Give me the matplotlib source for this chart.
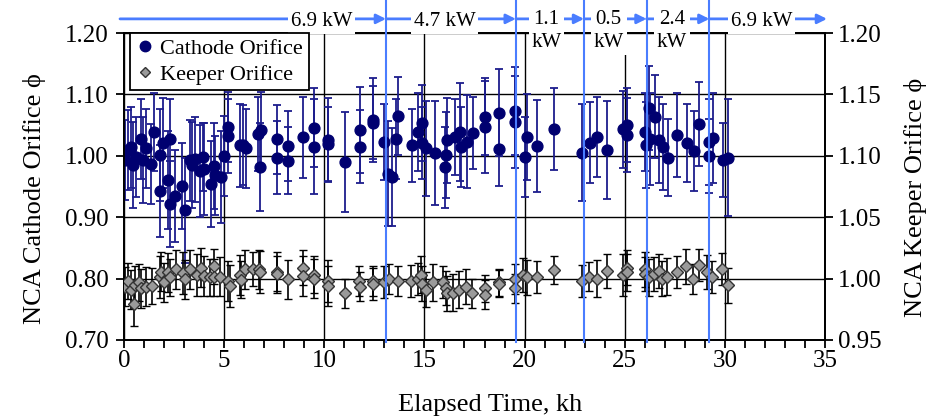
import numpy as np
import matplotlib
matplotlib.use('Agg')
import matplotlib.pyplot as plt
from matplotlib.lines import Line2D
import matplotlib.transforms as mtransforms

plt.rcParams['font.family'] = ['Liberation Serif', 'DejaVu Serif']

# Cathode orifice (left axis)
cath_x = [0.03, 0.2, 0.37, 0.45, 0.62, 0.87, 0.95, 1.12, 1.37, 1.5,
          1.78, 1.78, 1.94, 2.19, 2.28, 2.28, 2.56, 2.89, 3.06, 3.28,
          3.39, 3.52, 3.81, 3.94, 3.99, 4.36, 4.49, 4.52, 4.82, 4.99,
          5.18, 5.18, 5.77, 5.93, 6.1, 6.68, 6.85, 6.8, 7.63, 7.63,
          8.18, 8.18, 8.96, 9.51, 9.51, 10.2, 10.2, 11.05, 11.78, 11.78,
          12.45, 12.45, 13.0, 13.16, 13.36, 13.58, 13.69, 14.36, 14.66, 14.86,
          14.86, 15.1, 15.52, 16.02, 16.1, 16.15, 16.52, 16.78, 16.82, 17.12,
          17.45, 18.02, 18.02, 18.73, 18.73, 19.51, 19.51, 20.01, 20.14, 20.61,
          21.47, 22.88, 23.25, 23.63, 24.13, 24.93, 25.13, 25.13, 25.99, 26.04,
          26.21, 26.26, 26.49, 26.71, 26.92, 27.15, 27.59, 28.09, 28.45, 28.7,
          29.2, 29.2, 29.4, 29.9, 30.15]
cath_y = [0.993, 1.009, 1.014, 0.985, 0.998, 1.027, 0.993, 1.012, 0.987, 1.039,
          1.001, 0.943, 1.021, 0.960, 1.028, 0.921, 0.934, 0.951, 0.911, 0.993,
          0.985, 0.994, 0.975, 0.998, 0.979, 0.954, 0.984, 0.968, 0.966, 1.000,
          1.047, 1.032, 1.017, 1.017, 1.012, 1.035, 1.042, 0.982, 1.027, 0.997,
          1.016, 0.992, 1.030, 1.046, 1.015, 1.026, 1.019, 0.990, 1.042, 1.015,
          1.058, 1.054, 1.023, 0.971, 0.965, 1.027, 1.065, 1.017, 1.039, 1.053,
          1.021, 1.012, 1.005, 0.981, 1.001, 1.025, 1.031, 1.039, 1.014, 1.023,
          1.037, 1.064, 1.047, 1.070, 1.011, 1.073, 1.055, 0.998, 1.030, 1.016,
          1.044, 1.005, 1.021, 1.031, 1.009, 1.043, 1.050, 1.034, 1.039, 1.017,
          1.078, 1.028, 1.064, 1.026, 1.014, 0.997, 1.034, 1.021, 1.008, 1.052,
          1.023, 1.000, 1.029, 0.993, 0.997]
cath_err = [0.065, 0.065, 0.066, 0.070, 0.065, 0.065, 0.070, 0.065, 0.065, 0.063,
            0.075, 0.075, 0.073, 0.080, 0.065, 0.070, 0.075, 0.070, 0.085, 0.066,
            0.070, 0.070, 0.075, 0.055, 0.075, 0.070, 0.070, 0.065, 0.075, 0.065,
            0.057, 0.060, 0.068, 0.065, 0.065, 0.060, 0.062, 0.072, 0.056, 0.060,
            0.057, 0.055, 0.066, 0.064, 0.078, 0.068, 0.060, 0.082, 0.070, 0.060,
            0.068, 0.060, 0.062, 0.085, 0.080, 0.065, 0.064, 0.060, 0.064, 0.062,
            0.058, 0.078, 0.085, 0.066, 0.070, 0.069, 0.062, 0.080, 0.065, 0.076,
            0.059, 0.062, 0.075, 0.071, 0.060, 0.072, 0.075, 0.065, 0.070, 0.075,
            0.067, 0.079, 0.066, 0.065, 0.080, 0.063, 0.060, 0.060, 0.064, 0.070,
            0.068, 0.075, 0.068, 0.070, 0.070, 0.063, 0.069, 0.064, 0.065, 0.069,
            0.070, 0.060, 0.074, 0.060, 0.095]

# Keeper orifice (right axis)
keep_x = [0.03, 0.2, 0.33, 0.5, 0.57, 0.73, 0.83, 1.12, 1.4, 1.78,
          1.86, 1.99, 2.19, 2.28, 2.61, 2.94, 3.06, 3.32, 3.66, 3.82,
          3.99, 4.27, 4.49, 4.49, 4.77, 5.18, 5.27, 5.77, 5.85, 6.05,
          6.43, 6.73, 6.8, 7.63, 7.63, 8.18, 8.96, 8.96, 9.51, 9.51,
          10.2, 10.2, 11.05, 11.71, 11.78, 12.41, 12.45, 13.0, 13.25, 13.66,
          14.33, 14.66, 14.83, 14.86, 15.07, 15.45, 15.95, 16.07, 16.12, 16.45,
          16.73, 17.07, 17.4, 18.02, 18.02, 18.73, 18.73, 19.51, 19.51, 19.94,
          20.14, 20.61, 21.47, 22.88, 23.22, 23.63, 24.13, 24.93, 25.13, 25.13,
          25.99, 25.99, 26.21, 26.46, 26.71, 26.88, 27.13, 27.59, 28.04, 28.42,
          28.7, 29.12, 29.37, 29.87, 30.14]
keep_y = [0.9935, 0.998, 0.991, 0.979, 0.9945, 0.997, 0.992, 0.9935, 0.994, 1.001,
          1.0055, 0.997, 1.005, 1.001, 1.0075, 1.0045, 0.9995, 1.0075, 1.003, 1.009,
          1.002, 1.001, 1.010, 1.001, 1.0015, 0.998, 0.994, 1.003, 0.999, 1.0075,
          1.008, 1.0075, 1.0055, 1.0055, 1.0035, 0.9995, 1.009, 1.002, 1.003, 1.000,
          0.998, 0.994, 0.988, 0.998, 0.9935, 0.998, 0.9955, 0.997, 0.9995, 0.998,
          0.998, 0.9995, 1.003, 0.996, 0.991, 0.997, 0.997, 0.9925, 0.988, 0.9885,
          0.991, 0.9935, 0.988, 0.992, 0.987, 0.997, 0.996, 0.9995, 0.992, 1.003,
          1.001, 1.0015, 1.007, 0.998, 1.0015, 1.000, 1.006, 1.003, 1.009, 1.005,
          1.0075, 1.0035, 1.001, 1.0035, 1.006, 1.000, 1.0015, 1.0055, 1.010, 0.9995,
          1.011, 1.0055, 1.0015, 1.008, 0.9945]
keep_err = [0.016, 0.015, 0.016, 0.018, 0.016, 0.015, 0.016, 0.016, 0.015, 0.017,
            0.016, 0.016, 0.016, 0.015, 0.016, 0.017, 0.016, 0.016, 0.017, 0.016,
            0.016, 0.015, 0.014, 0.015, 0.016, 0.016, 0.017, 0.016, 0.015, 0.016,
            0.014, 0.016, 0.017, 0.016, 0.015, 0.016, 0.014, 0.016, 0.015, 0.016,
            0.017, 0.016, 0.012, 0.012, 0.012, 0.012, 0.013, 0.013, 0.012, 0.012,
            0.013, 0.013, 0.015, 0.014, 0.014, 0.015, 0.013, 0.014, 0.014, 0.015,
            0.015, 0.014, 0.012, 0.011, 0.012, 0.011, 0.011, 0.012, 0.012, 0.014,
            0.014, 0.013, 0.011, 0.013, 0.012, 0.015, 0.014, 0.017, 0.014, 0.015,
            0.014, 0.014, 0.015, 0.014, 0.014, 0.014, 0.015, 0.013, 0.014, 0.012,
            0.013, 0.014, 0.013, 0.013, 0.014]

# Power level changes
power_change = [13.08, 19.56, 22.97, 26.09, 29.23]
power_labels = ['6.9 kW', '4.7 kW', '1.1\nkW', '0.5\nkW', '2.4\nkW', '6.9 kW']

# layout only
seg_start = -0.2
seg_end = 35.1
label_x = [9.85, 16.0, 21.1, 24.2, 27.35, 31.85]

navy = '#000070'
blue = '#4a7dff'

fig = plt.figure(figsize=(9.27, 4.16), dpi=100)
ax = fig.add_axes([124 / 927, 1 - 340 / 416, (825 - 124) / 927, (340 - 33) / 416])
ax2 = ax.twinx()

ax.errorbar(cath_x, cath_y, yerr=cath_err, fmt='o', ms=7.8, color=navy,
            mfc=navy, mec=navy, ecolor='#1c1c8c', elinewidth=1.3, capsize=3,
            capthick=1.3, zorder=3)
ax2.errorbar(keep_x, keep_y, yerr=keep_err, fmt='D', ms=6.5, mfc='#9a9a9a',
             mec='#333333', mew=1.0, ecolor='black', elinewidth=1.2, capsize=3,
             capthick=1.2, zorder=3)

ax.set_xlim(0, 35)
ax.set_ylim(0.70, 1.20)
ax2.set_ylim(0.95, 1.20)
ax.set_xticks(np.arange(0, 36, 5))
ax.set_xticks(np.arange(0, 36, 1), minor=True)
ax.set_yticks(np.arange(0.70, 1.201, 0.10))
ax2.set_yticks(np.arange(0.95, 1.201, 0.05))
ax.yaxis.set_major_formatter(matplotlib.ticker.FormatStrFormatter('%.2f'))
ax2.yaxis.set_major_formatter(matplotlib.ticker.FormatStrFormatter('%.2f'))
ax.grid(True, which='major', color='black', lw=1.0, zorder=0)
ax.set_axisbelow(True)

for a in (ax, ax2):
    for s in a.spines.values():
        s.set_linewidth(1.3)
        s.set_color('black')
ax.tick_params(axis='both', which='both', direction='out', length=6, width=1.3,
               labelsize=18)
ax.tick_params(axis='x', which='both', pad=1)
ax.tick_params(axis='y', pad=5)
ax2.tick_params(axis='y', direction='out', length=6, width=1.3, labelsize=18)

ax.set_xlabel('Elapsed Time, kh', fontsize=19, labelpad=16)
ax.set_ylabel('NCA Cathode Orifice ϕ', fontsize=19, labelpad=14)
ax2.set_ylabel('NCA Keeper Orifice ϕ', fontsize=19, labelpad=16, rotation=90)
ax.xaxis.label.set_x(0.522)
ax.yaxis.label.set_y(0.46)
ax2.yaxis.label.set_y(0.465)

# power-level change lines
trans = mtransforms.blended_transform_factory(ax2.transData, ax2.transAxes)
for xc in power_change:
    ax2.plot([xc, xc], [-0.005, 1.13], color=blue, lw=1.5, transform=trans,
             clip_on=False, zorder=6)

# power-level arrows and labels above the plot
starts = [seg_start] + power_change
ends = power_change + [seg_end]
for s, e, lab, lx in zip(starts, ends, power_labels, label_x):
    ax2.annotate('', xy=(e, 1.046), xytext=(s, 1.046), xycoords=trans,
                 textcoords=trans, annotation_clip=False,
                 arrowprops=dict(arrowstyle='-|>', color=blue, lw=2,
                                 mutation_scale=14, shrinkA=0, shrinkB=0),
                 zorder=7)
    if '\n' in lab:
        ax2.text(lx, 1.076, lab, transform=trans, ha='center', va='top',
                 fontsize=15, linespacing=1.3, zorder=8, clip_on=False,
                 bbox=dict(facecolor='white', edgecolor='none', pad=2))
    else:
        ax2.text(lx, 1.037, lab, transform=trans, ha='center', va='center',
                 fontsize=15, zorder=8, clip_on=False,
                 bbox=dict(facecolor='white', edgecolor='none', pad=2))

handles = [Line2D([], [], ls='none', marker='o', ms=7.5, color=navy),
           Line2D([], [], ls='none', marker='D', ms=5, mfc='#9a9a9a', mec='#333333')]
leg = ax2.legend(handles, ['Cathode Orifice', 'Keeper Orifice'], loc='upper left',
                 bbox_to_anchor=(0.009, 1.0), fontsize=16, frameon=True,
                 fancybox=False, edgecolor='black', framealpha=1,
                 handlelength=0.8, handletextpad=0.3, borderpad=0.25,
                 labelspacing=0.22, borderaxespad=0)
leg.get_frame().set_linewidth(1.3)
leg.set_zorder(9)

fig.savefig('out.png', dpi=100)
